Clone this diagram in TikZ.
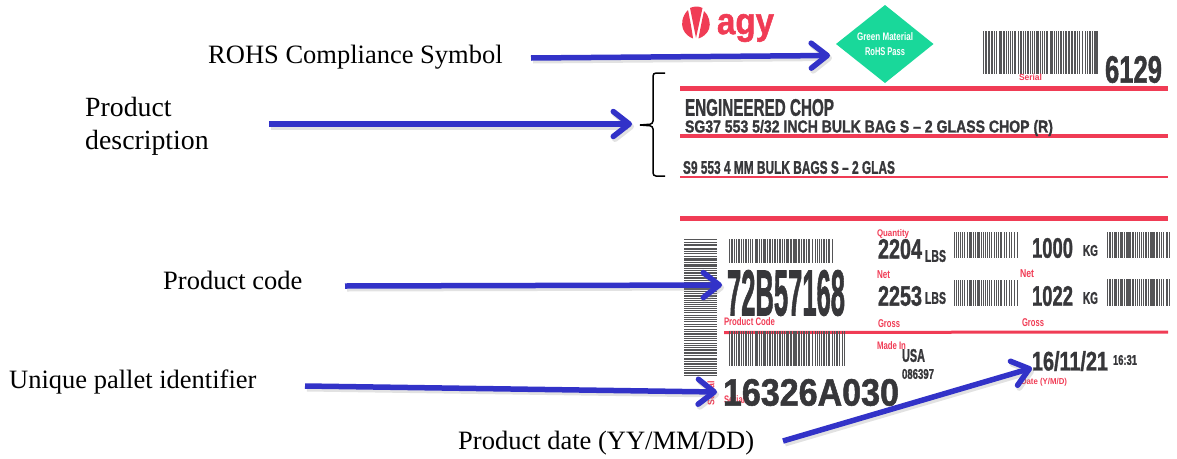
\documentclass[tikz,border=0pt]{standalone}
\usepackage{fontspec}
\usepackage{graphicx}
\setmainfont{Liberation Serif}
\newfontfamily\lab[BoldFeatures={FakeBold=1.5}]{Liberation Sans}
\newfontfamily\labplain{Liberation Sans}
\newcommand\lblfontink{\lab\bfseries}
\newcommand\lblfontlred{\labplain\bfseries}
\newcommand\lblfontwhite{\labplain\bfseries}
\usetikzlibrary{arrows.meta}
\definecolor{bluearrow}{RGB}{50,50,200}
\definecolor{lred}{RGB}{240,60,85}
\definecolor{ink}{RGB}{55,55,58}
\definecolor{dgreen}{RGB}{25,216,154}
\tikzset{
  callout/.style={font=\fontsize{26.5}{33}\selectfont,inner sep=0,anchor=west,align=left,text=black},
  calloutbig/.style={font=\fontsize{27.8}{33}\selectfont,inner sep=0,anchor=west,align=left,text=black},
  arrowline/.style={draw=bluearrow,line width=5.5pt,-{Straight Barb[length=16pt,width=25pt,round]}},
  arrowshadow/.style={draw=black!45,opacity=.25,line width=6pt,-{Straight Barb[length=16pt,width=25pt,round]}},
  redrule/.style={draw=lred,line width=#1},
}
% name, x0, x1, y0, y1, colour, text
\newcommand\lbl[7]{\node[inner sep=0,text=#6,font=\csname lblfont#6\endcsname] (#1) at ({(#2+#3)/2},{(#4+#5)/2})
  {\resizebox*{\dimexpr #3pt-#2pt\relax}{\dimexpr #5pt-#4pt\relax}{#7}};}
% x0, x1, y0, y1 : vertical bars
\newcommand\vbars[4]{\begin{scope}\pgfmathsetseed{#1}
  \pgfmathsetmacro\xpos{#1}
  \loop\ifdim\xpos pt<#2pt
    \pgfmathsetmacro\wbar{0.6+1.1*rnd}
    \pgfmathsetmacro\gbar{0.5+1.0*rnd}
    \fill[ink!85!white] (\xpos,#3) rectangle ({min(\xpos+\wbar,#2)},#4);
    \pgfmathsetmacro\xpos{\xpos+\wbar+\gbar}
  \repeat
\end{scope}}
% x0, x1, y0, y1 : horizontal bars
\newcommand\hbars[4]{\begin{scope}\pgfmathsetseed{#3}
  \pgfmathsetmacro\ypos{#3}
  \loop\ifdim\ypos pt<#4pt
    \pgfmathsetmacro\wbar{0.6+1.2*rnd}
    \pgfmathsetmacro\gbar{0.5+1.1*rnd}
    \fill[ink!85!white] (#1,\ypos) rectangle (#2,{min(\ypos+\wbar,#4)});
    \pgfmathsetmacro\ypos{\ypos+\wbar+\gbar}
  \repeat
\end{scope}}
\begin{document}
\begin{tikzpicture}[x=1pt,y=-1pt]
\useasboundingbox (0,0) rectangle (1177,458);
% red rules
\draw[redrule=4.5pt] (680,88.5) -- (1168,88.5);
\draw[redrule=4pt] (680,135.5) -- (1168,135.5);
\draw[redrule=2.5pt] (680,177) -- (1168,177);
\draw[redrule=4.5pt] (680,218.5) -- (1168,218.5);
\draw[redrule=3pt] (724,332.5) -- (1168,332);
% logo
\fill[lred] (688,10) .. controls (682,16) and (681,24) .. (683,29) .. controls (685,34) and (689,37) .. (693,38.5) .. controls (692,30) and (690,20) .. (688,10) -- cycle;
\fill[lred] (690,8) .. controls (694,6) and (699,6) .. (702.5,8) -- (696,38) -- cycle;
\fill[lred] (704,11) .. controls (709,15) and (711,24) .. (709,29) .. controls (707,34) and (703,37) .. (698.5,38.5) .. controls (700,30) and (702,20) .. (704,11) -- cycle;
\node[inner sep=0,text=lred,font=\lab\bfseries] (agy) at (745.5,28) {\resizebox*{57pt}{28pt}{agy}};
% RoHS diamond
\fill[dgreen] (836,44) -- (885,5) -- (933.5,44) -- (885,83) -- cycle;
\lbl{rohsa}{857}{913}{33}{41}{white}{Green Material}
\lbl{rohsb}{865}{905}{48}{56}{white}{RoHS Pass}
% top right
\vbars{983}{1099}{31}{74}
\lbl{serialtop}{1019}{1042}{74.5}{81}{lred}{Serial}
\lbl{num}{1105}{1162}{56}{83}{ink}{6129}
% description
\lbl{eng}{685}{834}{99}{116}{ink}{ENGINEERED CHOP}
\lbl{sg}{685}{1053}{120}{136}{ink}{SG37 553 5/32 INCH BULK BAG S – 2 GLASS CHOP (R)}
\lbl{s9}{683}{895}{161}{174}{ink}{S9 553 4 MM BULK BAGS S – 2 GLAS}
% bracket
\draw[black,line width=1.5pt,rounded corners=3pt] (665,73) -- (653,73) -- (653,124) -- (640,125);
\draw[black,line width=1.5pt,rounded corners=3pt] (640,125) -- (653,126) -- (653,176) -- (665,176);
% left barcode block
\hbars{684}{717}{239}{375}
\vbars{729}{834}{239}{263}
\lbl{code}{727}{845}{270}{316}{ink}{72B57168}
\lbl{plabel}{724}{775}{318}{326}{lred}{Product Code}
\vbars{729}{845}{331}{366}
\node[inner sep=0,text=lred,font=\labplain\bfseries,rotate=90] (sidelab) at (711,393) {\resizebox*{24pt}{7pt}{Serial}};
\lbl{seriallow}{724}{745}{396}{404}{lred}{Serial}
\lbl{pallet}{723}{899}{379}{406}{ink}{16326A030}
% quantities
\lbl{qty}{877}{909}{229}{238}{lred}{Quantity}
\lbl{qa}{878}{922}{239}{259}{ink}{2204}
\lbl{qb}{925}{946}{250}{262}{ink}{LBS}
\vbars{954}{1017}{232}{258}
\lbl{qc}{1032}{1073}{238}{258}{ink}{1000}
\lbl{qd}{1083}{1098}{245}{256}{ink}{KG}
\vbars{1107}{1170}{232}{258}
\lbl{neta}{877}{890}{271}{279}{lred}{Net}
\lbl{na}{878}{922}{286}{306}{ink}{2253}
\lbl{nb}{925}{946}{292}{304}{ink}{LBS}
\vbars{954}{1017}{280}{306}
\lbl{netb}{1020}{1034}{270}{278}{lred}{Net}
\lbl{nc}{1032}{1073}{286}{306}{ink}{1022}
\lbl{nd}{1083}{1098}{292}{304}{ink}{KG}
\vbars{1107}{1170}{279}{306}
\lbl{grossa}{878}{900}{320}{328}{lred}{Gross}
\lbl{grossb}{1022}{1044}{319}{327}{lred}{Gross}
\lbl{made}{877}{906}{342}{350}{lred}{Made In}
\lbl{usa}{902}{925}{349}{362}{ink}{USA}
\lbl{lot}{902}{934}{369}{379}{ink}{086397}
\lbl{date}{1032}{1108}{351}{371}{ink}{16/11/21}
\lbl{time}{1113}{1137}{355}{365}{ink}{16:31}
\lbl{datelab}{1021}{1067}{378}{386}{lred}{Date (Y/M/D)}
% callouts
\node[callout] (rohs) at (208,57) {ROHS Compliance Symbol};
\node[calloutbig] (desc) at (85,126) {Product\\description};
\node[callout] (pcode) at (163,280) {Product code};
\node[callout] (uid) at (9,382) {Unique pallet identifier};
\node[callout] (pdate) at (458,443) {Product date (YY/MM/DD)};
\coordinate (a1s) at (531,58); \coordinate (a1e) at (830,55.5);
\coordinate (a2s) at (269,124); \coordinate (a2e) at (632,124);
\coordinate (a3s) at (345,286); \coordinate (a3e) at (722,285);
\coordinate (a4s) at (305,386); \coordinate (a4e) at (717,392);
\coordinate (a5s) at (783,441); \coordinate (a5e) at (1032,368);
\foreach \i in {1,...,5}{
  \draw[arrowshadow] ([shift={(2,2.5)}]a\i s) -- ([shift={(2,2.5)}]a\i e);
  \draw[arrowline] (a\i s) -- (a\i e);
}
\end{tikzpicture}
\end{document}
